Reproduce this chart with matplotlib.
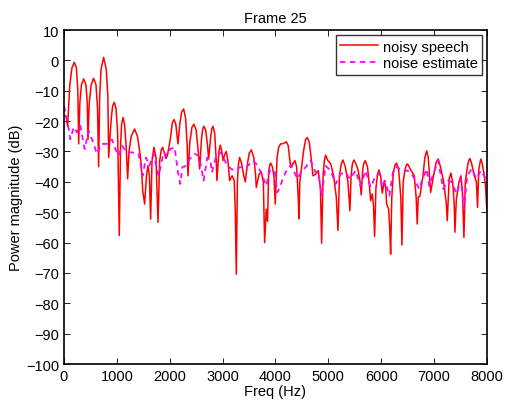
import matplotlib
matplotlib.use("Agg")
import matplotlib.pyplot as plt

# noisy speech spectrum (Hz, dB)
speech_freq = [0, 40, 68, 110, 150, 195, 235, 262, 278,
               300, 330, 372, 415, 440, 454,
               478, 515, 561, 605, 635, 655,
               675, 700, 750, 800, 830, 845,
               870, 895, 920, 952, 985, 1015, 1046,
               1070, 1090, 1116, 1145, 1175, 1204,
               1230, 1270, 1336, 1390, 1440, 1462, 1490, 1525,
               1560, 1588, 1615, 1639,
               1665, 1702, 1740, 1778,
               1810, 1840, 1866, 1900, 1929, 1960, 2010, 2050, 2080, 2115, 2156,
               2190, 2225, 2263, 2300, 2330, 2345,
               2380, 2420, 2458, 2500, 2540, 2566,
               2600, 2625, 2647, 2680, 2715, 2736,
               2770, 2795, 2818, 2850, 2880, 2893,
               2930, 2956, 2985, 3007,
               3040, 3070, 3100, 3133, 3180, 3220, 3240, 3259, 3280,
               3300, 3322, 3360, 3400, 3429,
               3470, 3505, 3543, 3590, 3625, 3637,
               3690, 3732, 3770, 3795, 3825, 3850,
               3870, 3890, 3908, 3940, 3971, 3996,
               4030, 4060, 4098, 4150, 4204, 4240, 4265, 4287, 4330, 4368, 4400, 4430,
               4444, 4460, 4475, 4530, 4570, 4601, 4640, 4680, 4709, 4760, 4810, 4850,
               4873, 4900, 4925, 4948, 4990, 5043, 5100, 5150, 5182, 5210,
               5245, 5276, 5320, 5370, 5408, 5430,
               5455, 5484, 5520, 5560, 5600, 5622, 5650,
               5670, 5698, 5740, 5780, 5800, 5830, 5855, 5875, 5900,
               5930, 5957, 5990, 6019, 6060, 6085, 6102, 6140, 6160, 6178, 6200,
               6230, 6260, 6291, 6330, 6370, 6392, 6415,
               6450, 6475, 6499, 6540, 6575, 6625, 6660, 6681, 6700, 6730,
               6790, 6825, 6859, 6890, 6920, 6934,
               6990, 7040, 7078, 7120, 7180, 7230, 7249,
               7285, 7318, 7350, 7380, 7394, 7420, 7470, 7507, 7535, 7564, 7590,
               7630, 7655, 7677, 7710, 7760, 7800, 7822, 7845,
               7870, 7885, 7910, 7950, 7975, 8000]
speech_db = [-18, -18.5, -21.7, -8, -2.5, -0.6, -2.5, -10, -27.5,
             -14, -8, -6.1, -8, -14, -26,
             -14, -8, -5.9, -8, -16, -35,
             -12, -3, 1, -3, -12, -32,
             -25, -19, -15, -13.8, -16, -24, -57.7,
             -28, -21, -18.8, -21, -28, -39,
             -30, -25, -22.6, -25, -31, -34.7, -43, -47.3,
             -38, -34.7, -38, -52.3,
             -33, -28.6, -32, -53.3,
             -33, -29.5, -28.6, -30.5, -32.3, -31, -26, -20.5, -19.5, -21, -27.5,
             -21, -17, -16, -19, -28, -38,
             -27, -22, -21, -23, -30, -35.8,
             -26, -22.5, -21.7, -23, -28, -32.5,
             -26, -22.5, -21.7, -24, -33, -39.6,
             -30, -27.9, -30, -33,
             -31, -30, -33, -39.6, -38, -39.6, -50, -70.4, -40,
             -34, -32, -34, -38, -40,
             -34, -30.5, -29.5, -32, -38, -41.8,
             -37.5, -36.7, -40, -60, -49, -53,
             -37, -34.5, -33.8, -35, -38, -47.3,
             -32, -28.6, -27.5, -27.4, -26.8, -28, -32, -35.2, -34, -33, -35, -45,
             -52.2, -40, -38, -30, -26, -25.4, -27, -33, -38, -37.5, -36.3, -42,
             -60.2, -38, -33, -31.2, -33, -34, -38, -45, -56, -38,
             -34, -32.8, -35, -40, -49.5, -38,
             -34, -32.8, -34, -36, -40, -44.3, -36,
             -34, -33, -35, -42, -46.2, -44, -48, -58, -42,
             -37.5, -36.1, -38, -43.7, -39.6, -42, -47.3, -49, -55, -63.8, -45,
             -37, -34.5, -33.8, -36, -45, -60.8, -40,
             -36, -34.5, -34.1, -35.5, -36.5, -38, -45, -53.9, -45, -44.8,
             -38, -32, -29.8, -32, -40, -43.5,
             -38, -33.5, -32.5, -35, -40, -47, -52.8,
             -39, -37.1, -40, -47, -56.6, -46, -40, -38, -43, -58.3, -40,
             -35, -33, -32.3, -34, -38, -40, -48.4, -36,
             -33.5, -32.5, -34, -38, -42, -50]

# noise estimate (Hz, dB)
noise_freq = [0, 57, 120, 183, 246, 309, 391, 466, 530, 624, 706, 813, 908, 971, 1034, 1097,
              1191, 1286, 1412, 1487, 1550, 1613, 1696, 1790, 1885, 1950, 2010, 2093, 2156,
              2200, 2237, 2313, 2376, 2471, 2547, 2590, 2641, 2710, 2773, 2799, 2880, 2975,
              3070, 3164, 3259, 3322, 3448, 3574, 3669, 3750, 3826, 3890, 3984, 4034, 4085,
              4147, 4223, 4299, 4412, 4506, 4570, 4665, 4760, 4810, 4873, 4948, 5043, 5138,
              5232, 5327, 5408, 5516, 5610, 5705, 5800, 5894, 5976, 6010, 6038, 6070, 6152,
              6228, 6291, 6386, 6499, 6606, 6719, 6783, 6859, 6909, 6984, 7078, 7173, 7267,
              7330, 7425, 7507, 7564, 7627, 7709, 7804, 7885, 7980]
noise_db = [-15, -19.3, -26, -22, -23.7, -21.5, -29.2, -23.2, -26, -30.8, -27.5, -27.5, -26,
            -29.2, -31.4, -28.1, -30.3, -30.3, -30.8, -38, -32, -34.7, -30.8, -38, -30.3,
            -31.4, -29.2, -28.6, -36.9, -40.7, -35.2, -34.7, -32.5, -30.8, -31.4, -34.7,
            -39.6, -32, -33.6, -36.9, -31.4, -30.3, -34.1, -35.8, -36.3, -35.2, -35.2, -33,
            -34.7, -38, -41.3, -36.3, -36.3, -43.5, -41.8, -38.5, -35.8, -34.5, -39, -36.3,
            -35.2, -33, -36.9, -37, -44.6, -34.7, -36.3, -40.7, -37.4, -36.9, -39, -36.3,
            -41.3, -36.3, -41.8, -38, -37.4, -41.8, -40.7, -39.6, -44.6, -36.3, -34.9, -36.3,
            -36.3, -38.2, -42.4, -39, -35.8, -41.3, -37.4, -33, -42.4, -39.6, -40, -44, -39,
            -49, -38, -35.8, -39, -36.3, -39]

y_ticks = list(range(-100, 11, 10))
x_ticks = list(range(0, 8001, 1000))

plt.rcParams['font.family'] = ['Liberation Sans', 'DejaVu Sans']
plt.rcParams['font.size'] = 10.5

fig = plt.figure(figsize=(5.05, 4.02), dpi=100)
ax = fig.add_axes([0.1267, 0.092, 0.8376, 0.8308])

ax.plot(speech_freq, speech_db, color='red', lw=1.1, label='noisy speech')
ax.plot(noise_freq, noise_db, color='magenta', lw=1.3, ls=(0, (3, 2.5)), label='noise estimate')

ax.set_xlim(0, 8000)
ax.set_ylim(-100, 10)
ax.set_xticks(x_ticks)
ax.set_yticks(y_ticks)
ax.tick_params(direction='in', top=True, right=True, length=4, width=0.6)
for s in ax.spines.values():
    s.set_linewidth(1.2)

ax.set_title('Frame 25', fontsize=10.5)
ax.set_xlabel('Freq (Hz)', labelpad=1)
ax.set_ylabel('Power magnitude (dB)', labelpad=2)

leg = ax.legend(loc='upper right', fancybox=False, edgecolor='black',
                borderaxespad=0.35, handlelength=2.6, borderpad=0.3,
                labelspacing=0.2, handletextpad=0.3)
leg.get_frame().set_linewidth(1.0)

fig.savefig('out.png', dpi=100)
